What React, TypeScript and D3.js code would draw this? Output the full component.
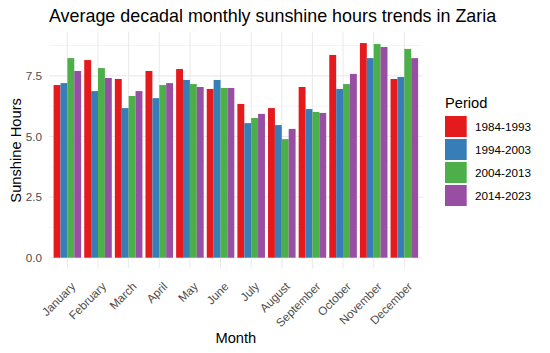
import React from "react";
import * as d3 from "d3";

const months = ["January","February","March","April","May","June","July","August","September","October","November","December"];
const periods = ["1984-1993","1994-2003","2004-2013","2014-2023"];
const colors = ["#E41A1C","#377EB8","#4DAF4A","#984EA3"];
const p1984 = [7.12,8.15,7.37,7.70,7.78,6.96,6.34,6.17,7.04,8.36,8.85,7.37];
const p1994 = [7.20,6.87,6.17,6.58,7.33,7.33,5.55,5.47,6.13,6.96,8.23,7.45];
const p2004 = [8.23,7.82,6.67,7.12,7.16,7.00,5.76,4.89,6.01,7.16,8.81,8.61];
const p2014 = [7.70,7.41,6.87,7.20,7.04,7.00,5.93,5.31,5.97,7.58,8.69,8.23];
const series = [p1984,p1994,p2004,p2014];
const yTicks = [0,2.5,5,7.5];
const yMinor = [1.25,3.75,6.25,8.75];

export default function App() {
  const W = 550, H = 353;
  const left = 49, right = 422.7;
  const maxV = d3.max(series.flat()) as number;
  const yMax = maxV * 1.05;
  const yMin = -maxV * 0.05;
  const top = 257.7 - (yMax) * 24.25;
  const bottom = 257.7 - yMin * 24.25;
  const y = d3.scaleLinear().domain([yMin, yMax]).range([bottom, top]);
  const x = d3.scalePoint().domain(months).range([left, right]).padding(0.6);
  const step = x.step();
  const cx = (i: number) => x(months[i]) as number;
  const bw = step * 0.9;
  const sub = d3.scaleBand().domain(periods).range([0, bw]);
  const font = "Liberation Sans, Arial, sans-serif";
  return (
    <svg width={W} height={H} style={{ position: "absolute", left: 0, top: 0, background: "#fff" }} fontFamily={font}>
      {yMinor.map(v => (
        <line key={"mn" + v} x1={left} x2={right} y1={y(v)} y2={y(v)} stroke="#EBEBEB" strokeWidth={0.55} />
      ))}
      {yTicks.map(v => (
        <line key={"mj" + v} x1={left} x2={right} y1={y(v)} y2={y(v)} stroke="#EBEBEB" strokeWidth={1.1} />
      ))}
      {months.map((m, i) => (
        <line key={"vx" + m} x1={cx(i)} x2={cx(i)} y1={top} y2={bottom} stroke="#EBEBEB" strokeWidth={1.1} />
      ))}
      {months.map((m, i) =>
        series.map((s, j) => (
          <rect key={m + j} x={cx(i) - bw / 2 + (sub(periods[j]) as number)} width={sub.bandwidth()}
            y={y(s[i])} height={y(0) - y(s[i])} fill={colors[j]} />
        ))
      )}
      {yTicks.map(v => (
        <text key={"yt" + v} x={42} y={y(v)} dy="0.35em" textAnchor="end" fontSize={11.7} fill="#4D4D4D">{d3.format(".1f")(v)}</text>
      ))}
      {months.map((m, i) => (
        <text key={"xt" + m} transform={`translate(${cx(i) + 3},${bottom + 13}) rotate(-45)`} textAnchor="end" dy="0.7em" fontSize={11.7} fill="#4D4D4D">{m}</text>
      ))}
      <text x={(left + right) / 2} y={343} textAnchor="middle" fontSize={14.7} fill="#000">Month</text>
      <text transform={`translate(21,${(top + bottom) / 2}) rotate(-90)`} textAnchor="middle" fontSize={14.7} fill="#000">Sunshine Hours</text>
      <text x={49} y={22} fontSize={17.9} fill="#000">Average decadal monthly sunshine hours trends in Zaria</text>
      <text x={445} y={108} fontSize={14.7} fill="#000">Period</text>
      {periods.map((p, j) => (
        <g key={p}>
          <rect x={445} y={116 + j * 23} width={21.7} height={21} fill={colors[j]} />
          <text x={475} y={126.5 + j * 23} dy="0.35em" fontSize={11.7} fill="#000">{p}</text>
        </g>
      ))}
    </svg>
  );
}
